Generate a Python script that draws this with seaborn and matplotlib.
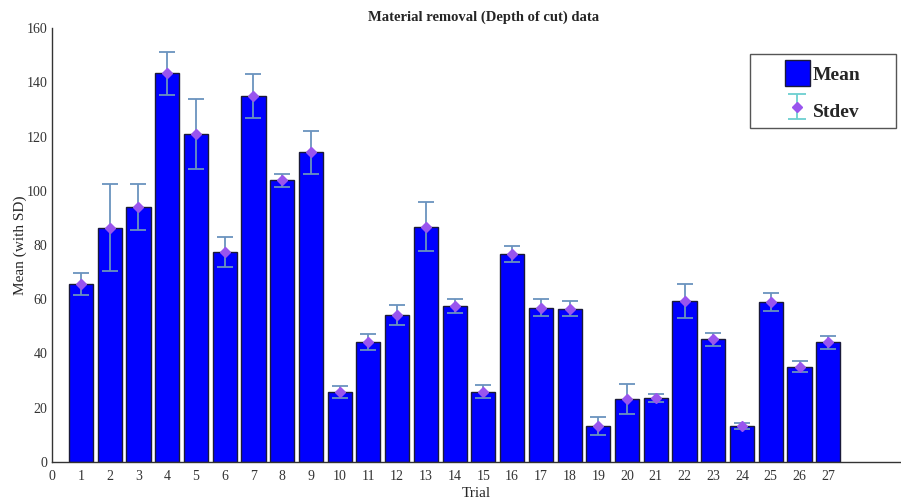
import matplotlib
matplotlib.use("Agg")
import matplotlib.pyplot as plt
import seaborn as sns
import numpy as np
import pandas as pd
from matplotlib.patches import Patch, Rectangle
from matplotlib.container import ErrorbarContainer
from matplotlib.legend_handler import HandlerErrorbar

trials = list(range(1, 28))
means = [65.6, 86.4, 93.9, 143.3, 120.9, 77.5, 135.0, 103.8, 114.2, 25.8,
         44.1, 54.2, 86.7, 57.5, 25.9, 76.8, 56.9, 56.5, 13.3, 23.2,
         23.5, 59.4, 45.3, 13.3, 59.0, 35.1, 44.1]
stdevs = [4.0, 16.0, 8.5, 8.0, 13.0, 5.5, 8.0, 2.5, 8.0, 2.3,
          3.0, 3.6, 9.0, 2.5, 2.5, 3.0, 3.0, 2.8, 3.2, 5.5,
          1.5, 6.2, 2.4, 1.2, 3.4, 2.1, 2.5]
y_ticks = list(range(0, 161, 20))
x_ticks = list(range(0, 28))

df = pd.DataFrame({"Trial": trials, "Mean": means, "Stdev": stdevs})

BAR = "#0000FF"
EDGE = "#1a1a3a"
ERR = "#6A93BE"
MARK = "#9955EE"
TEAL = "#6CCFD0"

sns.set_style("white")
plt.rcParams["font.family"] = ["Liberation Serif", "DejaVu Serif"]

fig = plt.figure(figsize=(9.01, 5.01), dpi=100)
ax = fig.add_axes([0.058, 0.078, 0.941, 0.866])

sns.barplot(data=df, x="Trial", y="Mean", native_scale=True, width=0.84,
            color=BAR, saturation=1, edgecolor=EDGE, linewidth=1.0,
            errorbar=None, ax=ax)

# standard deviation whiskers with a diamond at each mean
ax.errorbar(df["Trial"], df["Mean"], yerr=df["Stdev"], fmt="D",
            color=ERR, ecolor=ERR, elinewidth=1.3, capsize=5.8,
            capthick=1.3, markersize=5, markerfacecolor=MARK,
            markeredgecolor=MARK, zorder=5)

ax.set_xlim(0, 29.5)
ax.set_ylim(0, 160)
ax.set_xticks(x_ticks)
ax.set_xticklabels([str(t) for t in x_ticks])
ax.set_yticks(y_ticks)
ax.tick_params(axis="both", direction="in", labelsize=10, length=4, colors="#333333")
ax.tick_params(axis="x", length=0, pad=6)
for s in ["top", "right"]:
    ax.spines[s].set_visible(False)
for s in ["left", "bottom"]:
    ax.spines[s].set_color("#333333")
    ax.spines[s].set_linewidth(1.0)

ax.set_title("Material removal (Depth of cut) data", fontsize=10.5,
             fontweight="bold", pad=5, x=0.509)
ax.set_xlabel("Trial", fontsize=11, labelpad=3)
ax.set_ylabel("Mean (with SD)", fontsize=11, labelpad=0)

# legend: filled square for the mean, whisker with diamond for the stdev
mean_handle = Patch(facecolor=BAR, edgecolor=EDGE, linewidth=1.0, label="Mean")
sd_handle = ax.errorbar([np.nan], [np.nan], yerr=[1.0], fmt="D", color=TEAL,
                        ecolor=TEAL, elinewidth=1.3, capsize=6.5, capthick=1.3,
                        markersize=5, markerfacecolor=MARK, markeredgecolor=MARK,
                        label="Stdev")

ax.add_patch(Rectangle((0.823, 0.7696), 0.172, 0.1705, transform=ax.transAxes,
                       facecolor="white", edgecolor="#555555", linewidth=1.0,
                       clip_on=False, zorder=6))
leg = ax.legend(handles=[mean_handle, sd_handle], labels=["Mean", "Stdev"],
                loc="upper left", bbox_to_anchor=(0.864, 0.926),
                prop={"weight": "bold", "size": 14}, frameon=False,
                handlelength=1.3, handleheight=1.7, handletextpad=0.15,
                borderpad=0.0, borderaxespad=0.0, labelspacing=0.55, numpoints=1,
                handler_map={ErrorbarContainer: HandlerErrorbar(xerr_size=0.5, yerr_size=0.65)})
leg.set_zorder(7)

fig.savefig("out.png", dpi=100)
